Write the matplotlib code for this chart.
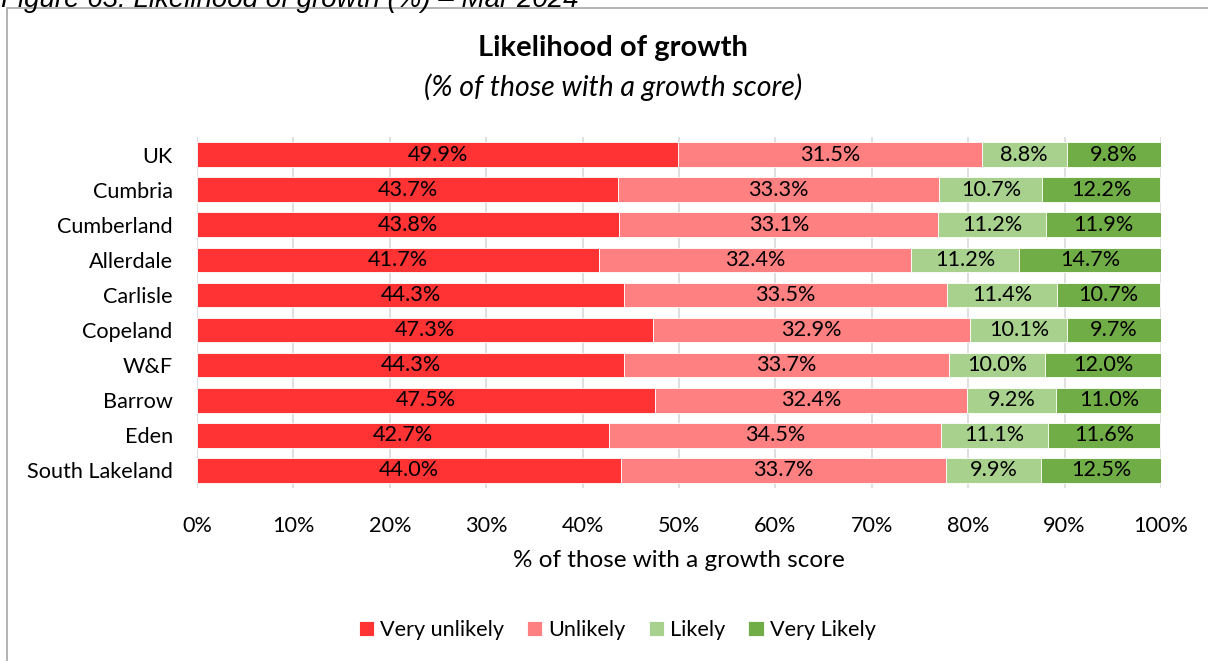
import matplotlib.pyplot as plt
import numpy as np

# ── Data ────────────────────────────────────────────────────────────────
areas = ['UK', 'Cumbria', 'Cumberland', 'Allerdale', 'Carlisle', 'Copeland',
         'W&F', 'Barrow', 'Eden', 'South Lakeland']
very_unlikely = [49.9, 43.7, 43.8, 41.7, 44.3, 47.3, 44.3, 47.5, 42.7, 44.0]
unlikely = [31.5, 33.3, 33.1, 32.4, 33.5, 32.9, 33.7, 32.4, 34.5, 33.7]
likely = [8.8, 10.7, 11.2, 11.2, 11.4, 10.1, 10.0, 9.2, 11.1, 9.9]
very_likely = [9.8, 12.2, 11.9, 14.7, 10.7, 9.7, 12.0, 11.0, 11.6, 12.5]
series_names = ['Very unlikely', 'Unlikely', 'Likely', 'Very Likely']
colours = ['#FF3333', '#FF8080', '#A9D18E', '#70AD47']
# ────────────────────────────────────────────────────────────────────────

plt.rcParams['font.family'] = ['Lato', 'DejaVu Sans']
FS = 15.6

fig = plt.figure(figsize=(12.08, 6.61), dpi=100)

# caption cut off at the top of the image
fig.text(0.001, 1 - 7 / 661, 'Figure 63: Likelihood of growth (%) \u2013 Mar 2024',
         fontsize=20, style='italic', family='Liberation Sans', va='baseline')
# chart border
fig.add_artist(plt.Rectangle((7 / 1208, -0.05), 1.1, 1 - 8 / 661 + 0.05,
                             transform=fig.transFigure, fill=False,
                             edgecolor='#A6A6A6', linewidth=1.2))

ax = fig.add_axes([197 / 1208, 1 - 488 / 661, (1161 - 197) / 1208, (488 - 137) / 661])

y = np.arange(len(areas))
left = np.zeros(len(areas))
for vals, name, col in zip([very_unlikely, unlikely, likely, very_likely], series_names, colours):
    vals = np.array(vals)
    ax.barh(y, vals, left=left, height=0.7, color=col, edgecolor='white',
            linewidth=0.6, label=name, zorder=3)
    for yi, l, v in zip(y, left, vals):
        ax.text(l + v / 2, yi, f'{v:.1f}%', ha='center', va='center',
                fontsize=FS, color='black', zorder=4)
    left += vals

ax.set_xlim(0, 100)
ax.set_ylim(len(areas) - 0.5, -0.5)
ax.set_yticks(y)
ax.set_yticklabels(areas, fontsize=FS)
ax.set_xticks(np.arange(0, 101, 10))
ax.set_xticklabels([f'{t}%' for t in range(0, 101, 10)], fontsize=FS)
ax.tick_params(axis='y', length=0, pad=17.5)
ax.tick_params(axis='x', length=0, pad=20)
ax.xaxis.grid(True, color='#D9D9D9', linewidth=1.2, zorder=0)
for s in ax.spines.values():
    s.set_visible(False)
ax.set_xlabel('% of those with a growth score', fontsize=17.5, labelpad=10)

fig.text(0.5077, 1 - 48 / 661, 'Likelihood of growth', ha='center', va='center',
         fontsize=21, fontweight='bold')
fig.text(0.5077, 1 - 87 / 661, '(% of those with a growth score)', ha='center',
         va='center', fontsize=20.5, style='italic')

fig.legend(loc='center', bbox_to_anchor=(0.511, 1 - 630 / 661), ncol=4, frameon=False,
           fontsize=FS, handlelength=0.7, handleheight=0.7, handletextpad=0.3,
           columnspacing=1.05)

fig.savefig('out.png', dpi=100)
